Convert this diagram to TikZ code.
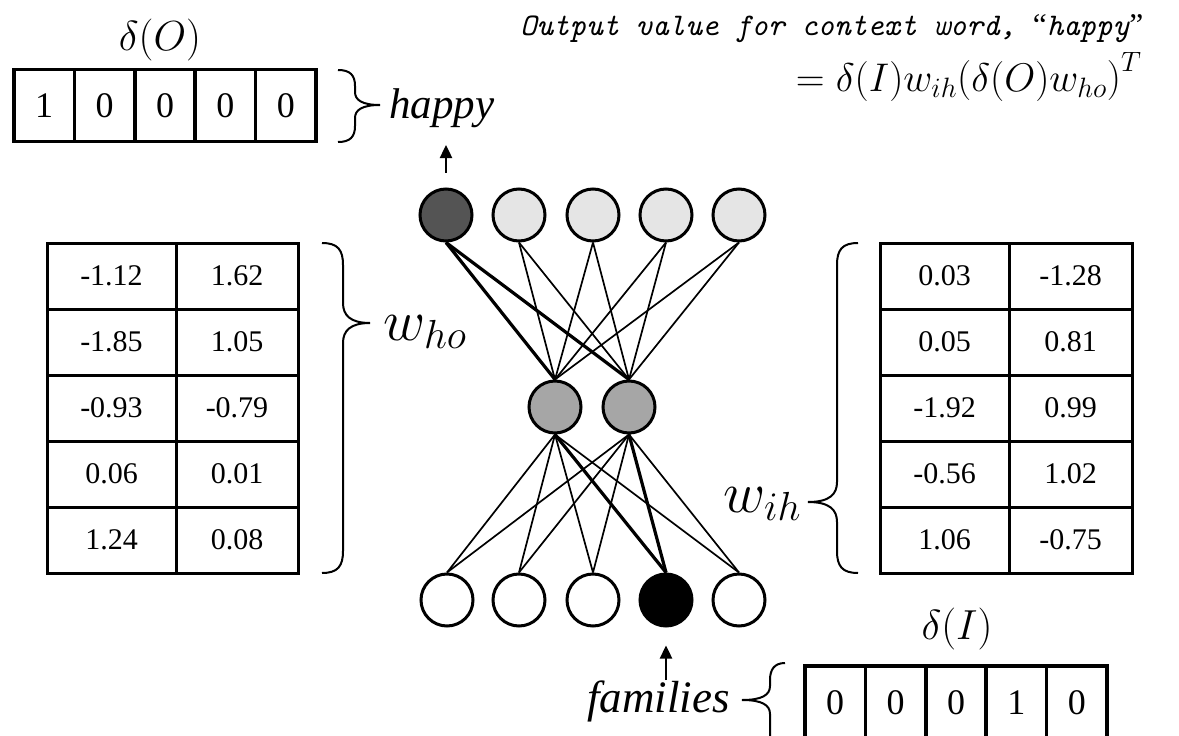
\RequirePackage{fix-cm}
\documentclass[tikz,border=0pt]{standalone}
\usepackage[no-math]{fontspec}
\setmainfont{Liberation Serif}[ItalicFont={Liberation Serif Italic}]
\newfontfamily\wordfont{Liberation Serif Italic}
\usetikzlibrary{arrows.meta}

\tikzset{
  neuron/.style={circle, draw, line width=3pt, minimum size=52pt, inner sep=0pt},
  bit/.style={draw, line width=3.5pt, minimum width=60.4pt, inner sep=0pt, font=\fontsize{36}{40}\selectfont},
  weight/.style={draw, line width=3pt, minimum height=66pt, inner sep=0pt, font=\fontsize{30}{34}\selectfont},
  word/.style={anchor=base west, inner sep=0pt},
  link/.style={line width=1.7pt},
  hotlink/.style={line width=3.2pt},
  brace/.style={line width=2pt},
  arr/.style={line width=2.4pt, -{Triangle[length=13pt, width=12pt]}},
}

\begin{document}
\begin{tikzpicture}[x=1pt, y=-1pt]
    \useasboundingbox (0,0) rectangle (1179,736);
    \clip (0,0) rectangle (1179,736);

    % one-hot vectors
    \foreach \v [count=\i] in {1,0,0,0,0}
      \node[bit, minimum height=72pt] (dO\i) at ({14+60.4*(\i-0.5)},105.5) {\v};
    \foreach \v [count=\i] in {0,0,0,1,0}
      \node[bit, minimum height=74pt] (dI\i) at ({805+60.4*(\i-0.5)},703) {\v};
    \node[anchor=base, font=\fontsize{42}{46}\selectfont] (dOlabel) at (160,50) {$\delta(O)$};
    \node[anchor=base, font=\fontsize{42}{46}\selectfont] (dIlabel) at (957,639) {$\delta(I)$};

    % weight tables
    \foreach \a/\b [count=\r] in {-1.12/1.62, -1.85/1.05, -0.93/-0.79, 0.06/0.01, 1.24/0.08} {
      \node[weight, minimum width=129pt] (ho\r a) at (111.5,{243+66*(\r-0.5)}) {\a};
      \node[weight, minimum width=122pt] (ho\r b) at (237,{243+66*(\r-0.5)}) {\b};
    }
    \foreach \a/\b [count=\r] in {0.03/-1.28, 0.05/0.81, -1.92/0.99, -0.56/1.02, 1.06/-0.75} {
      \node[weight, minimum width=129pt] (ih\r a) at (944.5,{243+66*(\r-0.5)}) {\a};
      \node[weight, minimum width=123pt] (ih\r b) at (1070.5,{243+66*(\r-0.5)}) {\b};
    }

    % network
    \node[neuron, fill=black!67] (out1) at (446,215) {};
    \node[neuron, fill=black!10] (out2) at (519,215) {};
    \node[neuron, fill=black!10] (out3) at (593,215) {};
    \node[neuron, fill=black!10] (out4) at (666,215) {};
    \node[neuron, fill=black!10] (out5) at (739,215) {};
    \node[neuron, fill=black!35] (hid1) at (555,407) {};
    \node[neuron, fill=black!35] (hid2) at (629,407) {};
    \node[neuron, fill=white] (in1) at (447,600) {};
    \node[neuron, fill=white] (in2) at (519,600) {};
    \node[neuron, fill=white] (in3) at (593,600) {};
    \node[neuron, fill=black] (in4) at (666,600) {};
    \node[neuron, fill=white] (in5) at (739,600) {};

    \foreach \o in {1,...,5}
      \foreach \h in {1,2} {
        \draw[link] (out\o.south) -- (hid\h.north);
        \draw[link] (hid\h.south) -- (in\o.north);
      }
    \draw[hotlink] (out1.south) -- (hid1.north);
    \draw[hotlink] (out1.south) -- (hid2.north);
    \draw[hotlink] (hid1.south) -- (in4.north);
    \draw[hotlink] (hid2.south) -- (in4.north);

    % words
    \node[word, font=\fontsize{43}{46}\wordfont] (happy) at (389,118) {happy};
    \node[word, font=\fontsize{45}{48}\wordfont] (families) at (587,712) {families};
    \draw[arr, shorten <=15pt] (out1.north) -- (out1.north |- 0,145);
    \draw[arr, shorten >=18pt] (families.north -| in4.south) -- (in4.south);

    % braces
    \draw[brace] (338,70) .. controls (350,70) and (355,75) .. (355,86) -- (355,92)
      .. controls (355,100) and (362,105) .. (380,105)
      .. controls (362,105) and (355,110) .. (355,118) -- (355,126)
      .. controls (355,137) and (350,142) .. (338,142);
    \draw[brace] (322,243) .. controls (338,243) and (343,250) .. (343,265) -- (343,303)
      .. controls (343,315) and (350,323) .. (370,323)
      .. controls (350,323) and (343,331) .. (343,343) -- (343,551)
      .. controls (343,566) and (338,573) .. (322,573);
    \draw[brace] (858,243) .. controls (842,243) and (837,250) .. (837,265) -- (837,482)
      .. controls (837,494) and (830,502) .. (808,502)
      .. controls (830,502) and (837,510) .. (837,522) -- (837,551)
      .. controls (837,566) and (842,573) .. (858,573);
    \draw[brace] (785,663) .. controls (774,663) and (770,670) .. (770,680) -- (770,686)
      .. controls (770,695) and (762,700) .. (742,700)
      .. controls (762,700) and (770,705) .. (770,714) -- (770,740);
    \node[anchor=base west, font=\fontsize{58}{62}\selectfont] (who) at (380,340) {$w_{ho}$};
    \node[anchor=base west, font=\fontsize{58}{62}\selectfont] (wih) at (720,512) {$w_{ih}$};

    % output value
    \node[anchor=base east, font=\fontsize{31.5}{38}\selectfont\ttfamily\itshape] (caption) at (1147,35)
      {Output value for context word, {\wordfont “}happy{\wordfont ”}};
    \node[anchor=base east, font=\fontsize{40}{44}\selectfont] (formula) at (1145,91)
      {$= \delta(I)w_{ih}{\left(\delta(O)w_{ho}\right)}^T$};
\end{tikzpicture}
\end{document}
